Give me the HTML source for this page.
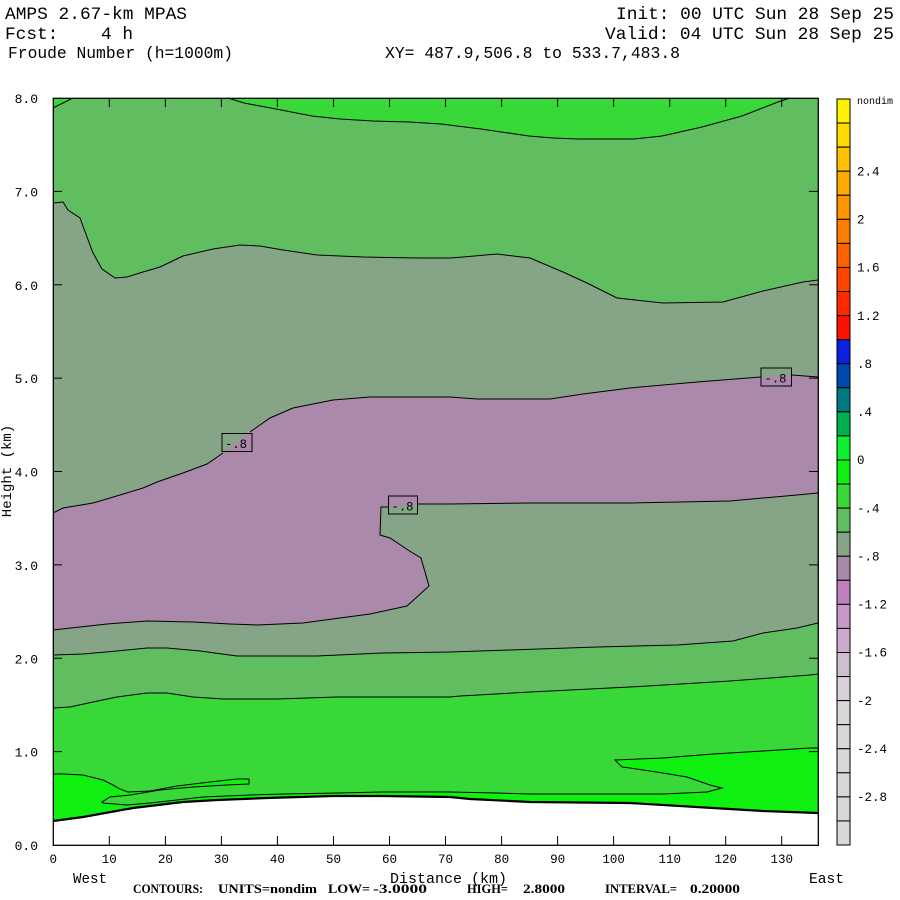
<!DOCTYPE html>
<html><head><meta charset="utf-8"><style>
html,body{margin:0;padding:0;background:#fff;}
svg{display:block;}
text{font-family:"Liberation Mono",monospace;fill:#000;white-space:pre;}
.s{font-family:"Liberation Serif",serif;font-weight:bold;}
</style></head><body>
<svg width="900" height="900" viewBox="0 0 900 900" xmlns="http://www.w3.org/2000/svg" xml:space="preserve">
<rect width="900" height="900" fill="#fff"/>
<!-- header -->
<text x="5" y="19" font-size="17.8" textLength="182" lengthAdjust="spacingAndGlyphs">AMPS 2.67-km MPAS</text>
<text x="5" y="39" font-size="17.8" textLength="128" lengthAdjust="spacingAndGlyphs" xml:space="preserve">Fcst:    4 h</text>
<text x="8" y="58" font-size="16.4" textLength="225" lengthAdjust="spacingAndGlyphs">Froude Number (h=1000m)</text>
<text x="616" y="19" font-size="17.8" textLength="278" lengthAdjust="spacingAndGlyphs">Init: 00 UTC Sun 28 Sep 25</text>
<text x="605" y="39" font-size="17.8" textLength="289" lengthAdjust="spacingAndGlyphs">Valid: 04 UTC Sun 28 Sep 25</text>
<text x="385" y="58" font-size="16.4" textLength="295" lengthAdjust="spacingAndGlyphs">XY= 487.9,506.8 to 533.7,483.8</text>

<!-- plot fills -->
<g stroke="none">
<rect x="53.3" y="98.3" width="765" height="747" fill="#60BE60"/>
<polygon fill="#38D838" points="228,98 244,103 276,109 312,116 340,119 373,121 409,122 441,124 481,129 529,136 553,138 578,139 634,139 662,136 702,127 742,116 778,102 790,98"/>
<polygon fill="#38D838" points="53,98 73,98 53,108"/>
<polygon fill="#86A586" points="53,203 63,202 68,210 80,218 87,237 93,253 102,269 115,278 127,277 143,272 160,267 183,256 213,249 240,245 260,246 283,250 317,255 363,257 417,258 450,258 463,257 497,254 530,258 563,272 587,283 617,298 663,303 723,302 763,291 803,282 818.3,280 818.3,623 797,628 763,633 733,641 677,645 597,647 510,650 450,652 383,653 317,656 237,656 200,651 167,648 147,648 117,651 83,654 53,655"/>
<polygon fill="#AA89AA" points="53,513 63,508 93,503 110,498 143,488 157,482 183,473 207,464 223,453 250,432 270,418 293,408 333,400 370,397 407,397 450,397 477,399 550,399 583,394 630,388 697,382 761,377 792,375 818.3,377 818.3,493 797,495 730,501 630,503 530,503 450,504 418,504 388,507 381,507 380,535 390,538 408,550 421,558 429,586 407,606 370,614 340,618 303,623 257,625 230,624 193,622 147,621 107,624 53,630"/>
<polygon fill="#38D838" points="53,708 70,707 93,702 117,697 147,693 167,693 193,697 223,699 277,699 337,697 450,697 460,696 530,692 630,687 730,681 810,675 818.3,674 818.3,845 53,845"/>
<polygon fill="#10F010" points="53,774 63,774 83,775 103,780 113,785 120,789 128,792 150,791 177,786 210,782 237,779 249,779 249,784 227,785 193,787 160,790 130,795 110,797 102,802 103,803 127,805 150,803 177,800 203,797 250,795 283,794 337,793 383,792 450,792 497,793 530,794 663,794 707,792 722,788 710,785 687,777 663,773 630,768 622,767 617,762 615,760 663,758 713,754 763,751 810,748 818.3,748 818.3,845 53,845"/>
<polygon fill="#fff" points="53,821 83,817 133,808 183,802 217,800 267,798 333,796 383,796 450,797 470,799 530,802 630,803 713,808 763,811 818.3,813 818.3,846 53,846"/>
</g>

<!-- contour lines -->
<g fill="none" stroke="#000" stroke-width="1">
<polyline points="228,98 244,103 276,109 312,116 340,119 373,121 409,122 441,124 481,129 529,136 553,138 578,139 634,139 662,136 702,127 742,116 778,102 790,98"/>
<polyline points="53,108 73,98"/>
<polyline points="53,203 63,202 68,210 80,218 87,237 93,253 102,269 115,278 127,277 143,272 160,267 183,256 213,249 240,245 260,246 283,250 317,255 363,257 417,258 450,258 463,257 497,254 530,258 563,272 587,283 617,298 663,303 723,302 763,291 803,282 818,280"/>
<polyline points="53,513 63,508 93,503 110,498 143,488 157,482 183,473 207,464 223,453"/>
<polyline points="250,432 270,418 293,408 333,400 370,397 407,397 450,397 477,399 550,399 583,394 630,388 697,382 761,377"/>
<polyline points="792,375 818,377"/>
<polyline points="818,493 797,495 730,501 630,503 530,503 450,504 418,504"/>
<polyline points="388,507 381,507 380,535 390,538 408,550 421,558 429,586 407,606 370,614 340,618 303,623 257,625 230,624 193,622 147,621 107,624 53,630"/>
<polyline points="53,655 83,654 117,651 147,648 167,648 200,651 237,656 317,656 383,653 450,652 510,650 597,647 677,645 733,641 763,633 797,628 818,623"/>
<polyline points="53,708 70,707 93,702 117,697 147,693 167,693 193,697 223,699 277,699 337,697 450,697 460,696 530,692 630,687 730,681 810,675 818,674"/>
<polyline points="53,774 63,774 83,775 103,780 113,785 120,789 128,792 150,791 177,786 210,782 237,779 249,779 249,784 227,785 193,787 160,790 130,795 110,797 102,802 103,803 127,805 150,803 177,800 203,797 250,795 283,794 337,793 383,792 450,792 497,793 530,794 663,794 707,792 722,788 710,785 687,777 663,773 630,768 622,767 617,762 615,760 663,758 713,754 763,751 810,748 818,748"/>
<polyline stroke-width="2.2" points="53,821 83,817 133,808 183,802 217,800 267,798 333,796 383,796 450,797 470,799 530,802 630,803 713,808 763,811 818,813"/>
<!-- label boxes -->
<rect x="222" y="433.5" width="30" height="18"/>
<rect x="388.5" y="496" width="29" height="18"/>
<rect x="761" y="368" width="30.5" height="18"/>
</g>
<text x="225" y="448" font-size="13" textLength="22" lengthAdjust="spacingAndGlyphs">-.8</text>
<text x="391.5" y="510.5" font-size="13" textLength="22" lengthAdjust="spacingAndGlyphs">-.8</text>
<text x="764.5" y="382.5" font-size="13" textLength="22" lengthAdjust="spacingAndGlyphs">-.8</text>

<!-- frame -->
<rect x="53.3" y="98.3" width="765" height="747" fill="none" stroke="#000" stroke-width="1.3"/>
<!-- ticks -->
<g stroke="#000" stroke-width="1">
<path d="M109.3 845V836M165.4 845V836M221.4 845V836M277.4 845V836M333.5 845V836M389.5 845V836M445.5 845V836M501.6 845V836M557.6 845V836M613.6 845V836M669.7 845V836M725.7 845V836M781.7 845V836"/>
<path d="M109.3 98V107M165.4 98V107M221.4 98V107M277.4 98V107M333.5 98V107M389.5 98V107M445.5 98V107M501.6 98V107M557.6 98V107M613.6 98V107M669.7 98V107M725.7 98V107M781.7 98V107"/>
<path d="M53 751.6H62M53 658.3H62M53 564.9H62M53 471.5H62M53 378.1H62M53 284.8H62M53 191.4H62"/>
<path d="M818 751.6H809M818 658.3H809M818 564.9H809M818 471.5H809M818 378.1H809M818 284.8H809M818 191.4H809"/>
</g>

<!-- y labels -->
<g font-size="13" text-anchor="end">
<text x="38" y="850">0.0</text>
<text x="38" y="756.6">1.0</text>
<text x="38" y="663.3">2.0</text>
<text x="38" y="569.9">3.0</text>
<text x="38" y="476.5">4.0</text>
<text x="38" y="383.1">5.0</text>
<text x="38" y="289.8">6.0</text>
<text x="38" y="196.4">7.0</text>
<text x="38" y="103">8.0</text>
</g>
<text transform="translate(11,471) rotate(-90)" font-size="14" text-anchor="middle">Height (km)</text>

<!-- x labels -->
<g font-size="12.5" text-anchor="middle">
<text x="53.3" y="863">0</text>
<text x="109.3" y="863">10</text>
<text x="165.4" y="863">20</text>
<text x="221.4" y="863">30</text>
<text x="277.4" y="863">40</text>
<text x="333.5" y="863">50</text>
<text x="389.5" y="863">60</text>
<text x="445.5" y="863">70</text>
<text x="501.6" y="863">80</text>
<text x="557.6" y="863">90</text>
<text x="613.6" y="863">100</text>
<text x="669.7" y="863">110</text>
<text x="725.7" y="863">120</text>
<text x="781.7" y="863">130</text>
</g>
<text x="73" y="883" font-size="15" textLength="34" lengthAdjust="spacingAndGlyphs">West</text>
<text x="390" y="883" font-size="15" textLength="117" lengthAdjust="spacingAndGlyphs">Distance (km)</text>
<text x="809" y="883" font-size="15" textLength="35" lengthAdjust="spacingAndGlyphs">East</text>

<!-- contour info -->
<g font-size="13">
<text class="s" x="133" y="893" textLength="70" lengthAdjust="spacingAndGlyphs">CONTOURS:</text>
<text class="s" x="218" y="893" textLength="99" lengthAdjust="spacingAndGlyphs">UNITS=nondim</text>
<text class="s" x="328" y="893" textLength="42" lengthAdjust="spacingAndGlyphs">LOW=</text>
<text class="s" x="373" y="893" textLength="54" lengthAdjust="spacingAndGlyphs">-3.0000</text>
<text class="s" x="467" y="893" textLength="41" lengthAdjust="spacingAndGlyphs">HIGH=</text>
<text class="s" x="523" y="893" textLength="42" lengthAdjust="spacingAndGlyphs">2.8000</text>
<text class="s" x="605" y="893" textLength="72" lengthAdjust="spacingAndGlyphs">INTERVAL=</text>
<text class="s" x="690" y="893" textLength="50" lengthAdjust="spacingAndGlyphs">0.20000</text>
</g>

<!-- colorbar -->
<g stroke="#000" stroke-width="1">
<rect x="837" y="99.00" width="13" height="24.07" fill="#FFF200"/>
<rect x="837" y="123.07" width="13" height="24.07" fill="#FFD900"/>
<rect x="837" y="147.13" width="13" height="24.07" fill="#FFC200"/>
<rect x="837" y="171.20" width="13" height="24.07" fill="#FFAA00"/>
<rect x="837" y="195.26" width="13" height="24.07" fill="#FF9400"/>
<rect x="837" y="219.33" width="13" height="24.07" fill="#FF7C00"/>
<rect x="837" y="243.39" width="13" height="24.07" fill="#FF6000"/>
<rect x="837" y="267.46" width="13" height="24.07" fill="#FF4400"/>
<rect x="837" y="291.52" width="13" height="24.07" fill="#FF2A00"/>
<rect x="837" y="315.59" width="13" height="24.07" fill="#FF1000"/>
<rect x="837" y="339.65" width="13" height="24.07" fill="#0C20E0"/>
<rect x="837" y="363.72" width="13" height="24.07" fill="#0048B0"/>
<rect x="837" y="387.78" width="13" height="24.07" fill="#007A80"/>
<rect x="837" y="411.85" width="13" height="24.07" fill="#00B050"/>
<rect x="837" y="435.91" width="13" height="24.07" fill="#10EE30"/>
<rect x="837" y="459.98" width="13" height="24.07" fill="#10F010"/>
<rect x="837" y="484.04" width="13" height="24.07" fill="#38D838"/>
<rect x="837" y="508.11" width="13" height="24.07" fill="#60BE60"/>
<rect x="837" y="532.17" width="13" height="24.07" fill="#86A586"/>
<rect x="837" y="556.24" width="13" height="24.07" fill="#AA88AA"/>
<rect x="837" y="580.30" width="13" height="24.07" fill="#C080C0"/>
<rect x="837" y="604.37" width="13" height="24.07" fill="#C898C8"/>
<rect x="837" y="628.43" width="13" height="24.07" fill="#CCAACC"/>
<rect x="837" y="652.50" width="13" height="24.07" fill="#D0BED0"/>
<rect x="837" y="676.56" width="13" height="24.07" fill="#D8D0D8"/>
<rect x="837" y="700.63" width="13" height="24.07" fill="#D8D8D8"/>
<rect x="837" y="724.69" width="13" height="24.07" fill="#D8D8D8"/>
<rect x="837" y="748.76" width="13" height="24.07" fill="#D8D8D8"/>
<rect x="837" y="772.82" width="13" height="24.07" fill="#D8D8D8"/>
<rect x="837" y="796.89" width="13" height="24.07" fill="#D8D8D8"/>
<rect x="837" y="820.95" width="13" height="24.05" fill="#D8D8D8"/>
</g>
<text x="857" y="104" font-size="10" textLength="36" lengthAdjust="spacingAndGlyphs">nondim</text>
<g font-size="12.5">
<text x="857" y="175.5">2.4</text>
<text x="857" y="223.6">2</text>
<text x="857" y="271.7">1.6</text>
<text x="857" y="319.8">1.2</text>
<text x="857" y="367.9">.8</text>
<text x="857" y="416">.4</text>
<text x="857" y="464.2">0</text>
<text x="857" y="512.3">-.4</text>
<text x="857" y="560.4">-.8</text>
<text x="857" y="608.6">-1.2</text>
<text x="857" y="656.7">-1.6</text>
<text x="857" y="704.8">-2</text>
<text x="857" y="753">-2.4</text>
<text x="857" y="801.1">-2.8</text>
</g>
</svg>
</body></html>
